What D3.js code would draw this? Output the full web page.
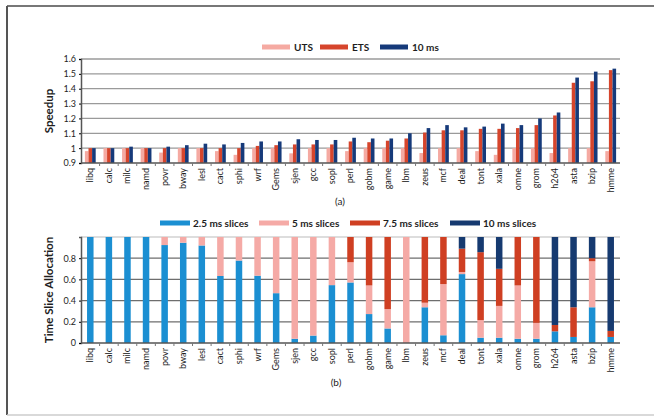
<!DOCTYPE html>
<html>
<head>
<meta charset="utf-8">
<script src="https://cdn.jsdelivr.net/npm/d3@7"></script>
<style>
  body { margin: 0; background: #fff; }
  text { font-family: Lato, "Open Sans", sans-serif; fill: #1e1e1e; }
</style>
</head>
<body>
<div id="chart"></div>
<script>
// benchmark names
var benchmarks = ["libq", "calc", "milc", "namd", "povr", "bway", "lesl", "cact", "sphi", "wrf",
  "Gems", "sjen", "gcc", "sopl", "perl", "gobm", "game", "lbm", "zeus", "mcf",
  "deal", "tont", "xala", "omne", "grom", "h264", "asta", "bzip", "hmme"];

// (a) speedup
var uts = [0.98, 1.0, 1.0, 1.0, 0.97, 1.0, 1.0, 0.98, 0.955, 1.0,
  1.0, 0.965, 1.0, 1.0, 0.98, 1.0, 1.0, 1.0, 0.967, 1.0,
  1.0, 0.98, 0.955, 1.0, 1.0, 0.967, 1.0, 1.0, 0.98];
var ets = [1.0, 1.0, 1.0, 1.0, 1.0, 1.0, 1.0, 1.0, 1.0, 1.015,
  1.02, 1.025, 1.025, 1.025, 1.045, 1.04, 1.05, 1.065, 1.105, 1.12,
  1.12, 1.13, 1.13, 1.135, 1.155, 1.22, 1.44, 1.45, 1.525];
var ms10 = [1.0, 1.0, 1.01, 1.0, 1.01, 1.02, 1.03, 1.025, 1.035, 1.045,
  1.045, 1.06, 1.055, 1.055, 1.07, 1.065, 1.065, 1.1, 1.135, 1.155,
  1.14, 1.145, 1.165, 1.155, 1.2, 1.24, 1.475, 1.515, 1.535];
var speedTicks = [0.9, 1, 1.1, 1.2, 1.3, 1.4, 1.5, 1.6];

// (b) time slice allocation
var slice25 = [1.0, 1.0, 1.0, 1.0, 0.924, 0.946, 0.92, 0.632, 0.778, 0.635,
  0.47, 0.04, 0.07, 0.546, 0.571, 0.273, 0.137, 0.0, 0.337, 0.073,
  0.65, 0.05, 0.05, 0.04, 0.04, 0.11, 0.057, 0.337, 0.057];
var slice5 = [0, 0, 0, 0, 0.076, 0.054, 0.08, 0.368, 0.222, 0.365,
  0.53, 0.96, 0.93, 0.454, 0.191, 0.27, 0.183, 1.0, 0.043, 0.483,
  0.02, 0.166, 0.3, 0.503, 0.15, 0.0, 0.0, 0.434, 0.0];
var slice75 = [0, 0, 0, 0, 0, 0, 0, 0, 0, 0,
  0, 0, 0, 0, 0.238, 0.457, 0.68, 0, 0.62, 0.444,
  0.22, 0.641, 0.35, 0.457, 0.81, 0.06, 0.28, 0.029, 0.057];
var slice10 = [0, 0, 0, 0, 0, 0, 0, 0, 0, 0,
  0, 0, 0, 0, 0, 0, 0, 0, 0, 0,
  0.11, 0.143, 0.3, 0, 0, 0.83, 0.663, 0.2, 0.886];
var allocTicks = [0, 0.2, 0.4, 0.6, 0.8];

var svgWidth = 654, svgHeight = 417;
var svg = d3.select("#chart").append("svg")
  .attr("width", svgWidth)
  .attr("height", svgHeight);

// frame around the figure
svg.append("line").attr("x1", 7).attr("x2", 654).attr("y1", 6).attr("y2", 6)
  .attr("stroke", "#777").attr("stroke-width", 2);
svg.append("line").attr("x1", 7).attr("x2", 7).attr("y1", 6).attr("y2", 415)
  .attr("stroke", "#555").attr("stroke-width", 2);
svg.append("line").attr("x1", 7).attr("x2", 654).attr("y1", 415).attr("y2", 415)
  .attr("stroke", "#ccc").attr("stroke-width", 1.5);

var plotLeft = 81, plotRight = 620;

var x = d3.scaleBand()
  .domain(benchmarks)
  .range([plotLeft, plotRight]);

// ---------- panel (a) ----------
var yA = d3.scaleLinear().domain([0.9, 1.6]).range([163, 59]);
var colA = ["#f5aaa2", "#d6452c", "#163a7a"];
var seriesA = [uts, ets, ms10];
var namesA = ["UTS", "ETS", "10 ms"];

// gridlines
svg.append("g")
  .selectAll("line")
  .data(speedTicks.slice(1))
  .enter().append("line")
  .attr("x1", plotLeft).attr("x2", plotRight)
  .attr("y1", d => yA(d)).attr("y2", d => yA(d))
  .attr("stroke", "#9a9a9a").attr("stroke-width", 1.3);

var barW = 3.6;
seriesA.forEach(function(vals, s) {
  svg.append("g").selectAll("rect")
    .data(vals)
    .enter().append("rect")
    .attr("x", (d, i) => x(benchmarks[i]) + x.bandwidth() / 2 - 1.5 * barW + s * barW)
    .attr("width", barW)
    .attr("y", d => yA(d))
    .attr("height", d => yA(0.9) - yA(d))
    .attr("fill", colA[s]);
});

// y axis (a)
var axisA = svg.append("g")
  .attr("transform", `translate(${plotLeft},0)`)
  .call(d3.axisLeft(yA).tickValues(speedTicks).tickSize(2).tickFormat(d3.format("")));
axisA.select(".domain").attr("stroke", "#555").attr("stroke-width", 1.5);
axisA.selectAll("text").style("font-size", "9px").attr("fill", "#1e1e1e");

// x axis (a)
var xAxA = svg.append("g").attr("transform", `translate(0,${yA(0.9)})`);
xAxA.append("line").attr("x1", plotLeft).attr("x2", plotRight)
  .attr("stroke", "#555").attr("stroke-width", 1.5);
xAxA.selectAll("line.tk")
  .data(benchmarks.slice(1))
  .enter().append("line")
  .attr("x1", d => x(d)).attr("x2", d => x(d))
  .attr("y1", 0).attr("y2", 3)
  .attr("stroke", "#777");
xAxA.selectAll("text")
  .data(benchmarks)
  .enter().append("text")
  .attr("transform", d => `translate(${x(d) + x.bandwidth() / 2},5) rotate(-90)`)
  .attr("text-anchor", "end")
  .attr("dy", "0.33em")
  .style("font-size", "9px")
  .text(d => d);

// legend (a)
var legA = [262, 320, 380];
namesA.forEach(function(n, s) {
  svg.append("line").attr("x1", legA[s]).attr("x2", legA[s] + 28)
    .attr("y1", 47).attr("y2", 47)
    .attr("stroke", colA[s]).attr("stroke-width", 5);
  svg.append("text").attr("x", legA[s] + 32).attr("y", 47).attr("dy", "0.35em")
    .style("font-size", "10px").style("font-weight", "bold").text(n);
});

svg.append("text")
  .attr("transform", "translate(53,111) rotate(-90)")
  .attr("text-anchor", "middle")
  .style("font-size", "11.5px").style("font-weight", "bold")
  .text("Speedup");

svg.append("text").attr("x", 340).attr("y", 201).attr("text-anchor", "middle")
  .attr("dy", "0.35em").style("font-size", "10px").text("(a)");

// ---------- panel (b) ----------
var yB = d3.scaleLinear().domain([0, 1]).range([343, 237]);
var colB = ["#1b8fd2", "#f5aaa6", "#cf3f22", "#163a70"];
var namesB = ["2.5 ms slices", "5 ms slices", "7.5 ms slices", "10 ms slices"];
var keys = ["s25", "s5", "s75", "s10"];
var rows = benchmarks.map((b, i) => ({name: b, s25: slice25[i], s5: slice5[i], s75: slice75[i], s10: slice10[i]}));
var stacked = d3.stack().keys(keys)(rows);

svg.append("g")
  .selectAll("line")
  .data([0.2, 0.4, 0.6, 0.8])
  .enter().append("line")
  .attr("x1", plotLeft).attr("x2", plotRight)
  .attr("y1", d => yB(d)).attr("y2", d => yB(d))
  .attr("stroke", "#6e6e6e").attr("stroke-width", 1.3);
svg.append("line")
  .attr("x1", plotLeft).attr("x2", plotRight)
  .attr("y1", yB(1)).attr("y2", yB(1))
  .attr("stroke", "#bbb").attr("stroke-width", 1);

var barB = 6.5;
stacked.forEach(function(layer, s) {
  svg.append("g").selectAll("rect")
    .data(layer)
    .enter().append("rect")
    .attr("x", d => x(d.data.name) + x.bandwidth() / 2 - barB / 2)
    .attr("width", barB)
    .attr("y", d => yB(d[1]))
    .attr("height", d => Math.max(0, yB(d[0]) - yB(d[1])))
    .attr("fill", colB[s]);
});

var axisB = svg.append("g")
  .attr("transform", `translate(${plotLeft},0)`)
  .call(d3.axisLeft(yB).tickValues(allocTicks).tickSize(2).tickFormat(d3.format("")));
axisB.select(".domain").attr("stroke", "#555").attr("stroke-width", 1.5);
axisB.selectAll("text").style("font-size", "9px").attr("fill", "#1e1e1e");

var xAxB = svg.append("g").attr("transform", `translate(0,${yB(0)})`);
xAxB.append("line").attr("x1", plotLeft).attr("x2", plotRight)
  .attr("stroke", "#555").attr("stroke-width", 1.5);
xAxB.selectAll("line.tk")
  .data(benchmarks.slice(1))
  .enter().append("line")
  .attr("x1", d => x(d)).attr("x2", d => x(d))
  .attr("y1", 0).attr("y2", 3)
  .attr("stroke", "#777");
xAxB.selectAll("text")
  .data(benchmarks)
  .enter().append("text")
  .attr("transform", d => `translate(${x(d) + x.bandwidth() / 2},5) rotate(-90)`)
  .attr("text-anchor", "end")
  .attr("dy", "0.33em")
  .style("font-size", "9px")
  .text(d => d);

var legB = [160, 259, 350, 450];
namesB.forEach(function(n, s) {
  svg.append("line").attr("x1", legB[s]).attr("x2", legB[s] + 30)
    .attr("y1", 223).attr("y2", 223)
    .attr("stroke", colB[s]).attr("stroke-width", 5);
  svg.append("text").attr("x", legB[s] + 33).attr("y", 223).attr("dy", "0.35em")
    .style("font-size", "10px").style("font-weight", "bold").text(n);
});

svg.append("text")
  .attr("transform", "translate(53,290) rotate(-90)")
  .attr("text-anchor", "middle")
  .style("font-size", "11.5px").style("font-weight", "bold")
  .text("Time Slice Allocation");

svg.append("text").attr("x", 336).attr("y", 382).attr("text-anchor", "middle")
  .attr("dy", "0.35em").style("font-size", "10px").text("(b)");
</script>
</body>
</html>
